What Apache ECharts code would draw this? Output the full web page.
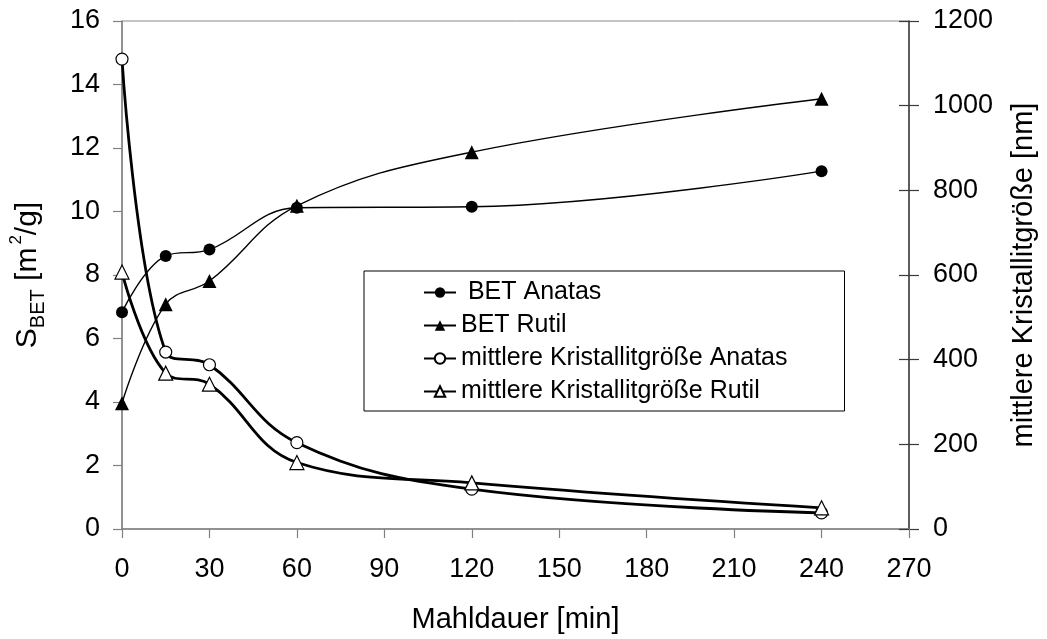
<!DOCTYPE html>
<html>
<head>
<meta charset="utf-8">
<script src="https://cdn.jsdelivr.net/npm/echarts@6/dist/echarts.min.js"></script>
<style>
html,body{margin:0;padding:0;background:#fff;}
#c{width:1047px;height:639px;}
</style>
</head>
<body>
<div id="c"></div>
<script>
// Mahldauer [min]
const times = [0, 15, 30, 60, 120, 240];
// S_BET [m²/g] (left axis)
const betAnatas = [6.83, 8.6, 8.8, 10.12, 10.15, 11.27];
const betRutil = [3.96, 7.08, 7.81, 10.18, 11.87, 13.55];
// mittlere Kristallitgröße [nm] (right axis)
const kristAnatas = [1110, 418, 388, 204, 94, 38];
const kristRutil = [607, 368, 342, 157, 109, 50];

const seriesNames = [' BET Anatas', 'BET Rutil', 'mittlere Kristallitgröße Anatas', 'mittlere Kristallitgröße Rutil'];

const FONT = 'Liberation Sans, Arial, sans-serif';
const pairs = (xs, ys) => xs.map((x, i) => [x, ys[i]]);

const chart = echarts.init(document.getElementById('c'), null, {renderer: 'canvas'});
chart.setOption({
  backgroundColor: '#fff',
  animation: false,
  textStyle: {fontFamily: FONT, color: '#000'},
  grid: {left: 119, right: 138, top: 21, bottom: 109, show: true, borderColor: '#8a8a8a', borderWidth: 1},
  legend: {
    orient: 'vertical', left: 364, top: 271,
    padding: [9, 57, 7, 59],
    itemWidth: 32, itemHeight: 13, itemGap: 8,
    borderColor: '#000', borderWidth: 1, backgroundColor: '#fff',
    textStyle: {fontFamily: FONT, fontSize: 25, color: '#000'},
    data: seriesNames
  },
  xAxis: {
    type: 'value', min: 0, max: 270, interval: 30,
    axisLine: {show: true, onZero: false, lineStyle: {color: '#808080', width: 1.5}},
    axisTick: {show: true, inside: false, length: 9, lineStyle: {color: '#808080', width: 1.2}},
    splitLine: {show: false},
    axisLabel: {fontFamily: FONT, fontSize: 27, color: '#000', margin: 27},
    name: 'Mahldauer [min]', nameLocation: 'middle', nameGap: 76,
    nameTextStyle: {fontFamily: FONT, fontSize: 29, color: '#000'}
  },
  yAxis: [
    {
      type: 'value', position: 'left', min: 0, max: 16, interval: 2,
      axisLine: {show: true, onZero: false, lineStyle: {color: '#808080', width: 1.5}},
      axisTick: {show: true, inside: false, length: 9, lineStyle: {color: '#808080', width: 1.2}},
      splitLine: {show: false},
      axisLabel: {fontFamily: FONT, fontSize: 27, color: '#000', margin: 22},
      name: '{a|S}{s|BET}{a| [m}{p|2}{a|/g]}', nameLocation: 'middle', nameRotate: 90, nameGap: 74,
      nameTextStyle: {
        fontFamily: FONT, color: '#000',
        rich: {
          a: {fontFamily: FONT, fontSize: 30, color: '#000', lineHeight: 40, verticalAlign: 'middle'},
          s: {fontFamily: FONT, fontSize: 20, color: '#000', lineHeight: 20, verticalAlign: 'bottom'},
          p: {fontFamily: FONT, fontSize: 17, color: '#000', lineHeight: 36, verticalAlign: 'top', padding: [0, 0, 0, 3]}
        }
      }
    },
    {
      type: 'value', position: 'right', min: 0, max: 1200, interval: 200,
      axisLine: {show: true, onZero: false, lineStyle: {color: '#3a3a3a', width: 1.5}},
      axisTick: {show: true, inside: false, length: 10, lineStyle: {color: '#3a3a3a', width: 1.2}},
      splitLine: {show: false},
      axisLabel: {fontFamily: FONT, fontSize: 27, color: '#000', margin: 24, formatter: v => String(v)},
      name: 'mittlere Kristallitgröße [nm]', nameLocation: 'middle', nameRotate: 90, nameGap: 100,
      nameTextStyle: {fontFamily: FONT, fontSize: 29, color: '#000'}
    },
    {
      type: 'value', position: 'right', min: 0, max: 1200, interval: 200,
      axisLine: {show: false, onZero: false},
      axisTick: {show: true, inside: true, length: 10, lineStyle: {color: '#3a3a3a', width: 1.2}},
      splitLine: {show: false},
      axisLabel: {show: false}
    }
  ],
  series: [
    {
      name: seriesNames[0], type: 'line', yAxisIndex: 0, smooth: 0.4,
      data: pairs(times, betAnatas),
      symbol: 'circle', symbolSize: 12,
      itemStyle: {color: '#000'},
      lineStyle: {color: '#000', width: 1.4}
    },
    {
      name: seriesNames[1], type: 'line', yAxisIndex: 0, smooth: 0.4,
      data: pairs(times, betRutil),
      symbol: 'triangle', symbolSize: 14,
      itemStyle: {color: '#000'},
      lineStyle: {color: '#000', width: 1.4}
    },
    {
      name: seriesNames[2], type: 'line', yAxisIndex: 1, smooth: 0.4,
      data: pairs(times, kristAnatas),
      symbol: 'circle', symbolSize: 12,
      itemStyle: {color: '#fff', borderColor: '#000', borderWidth: 1.2},
      lineStyle: {color: '#000', width: 2.8}
    },
    {
      name: seriesNames[3], type: 'line', yAxisIndex: 1, smooth: 0.4,
      data: pairs(times, kristRutil),
      symbol: 'triangle', symbolSize: 14,
      itemStyle: {color: '#fff', borderColor: '#000', borderWidth: 1.2},
      lineStyle: {color: '#000', width: 2.8}
    }
  ]
});
</script>
</body>
</html>
